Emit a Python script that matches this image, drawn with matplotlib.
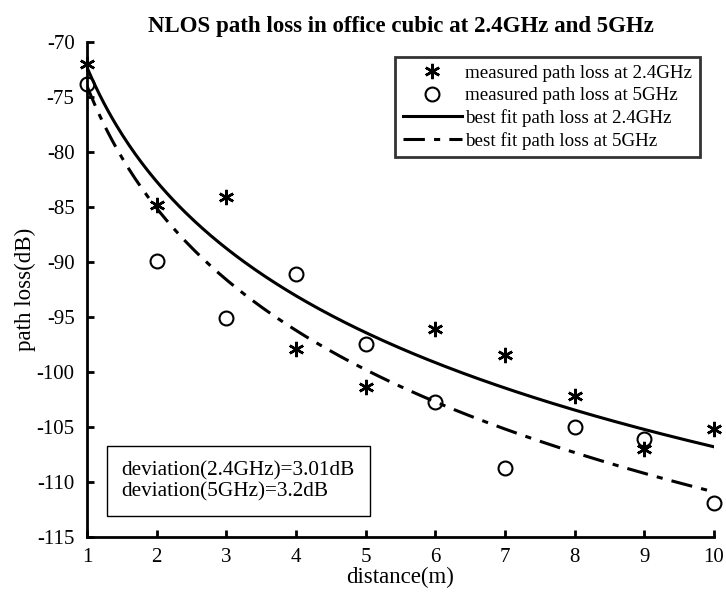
import numpy as np
import matplotlib
matplotlib.use("Agg")
import matplotlib.pyplot as plt

plt.rcParams['font.family'] = ['Liberation Serif', 'DejaVu Serif']
plt.rcParams['axes.unicode_minus'] = False

# Measured NLOS path loss (dB) versus distance (m)
distance = [1, 2, 3, 4, 5, 6, 7, 8, 9, 10]
loss_24 = [-72.0, -84.8, -84.1, -97.9, -101.4, -96.1, -98.5, -102.2, -107.0, -105.2]
loss_5 = [-73.8, -89.9, -95.1, -91.1, -97.5, -102.7, -108.7, -105.0, -106.1, -111.9]

# Log-distance fit: PL(d) = PL0 - slope * log10(d)
fit_24_pl0, fit_24_slope = -72.3, 34.5
fit_5_pl0, fit_5_slope = -74.0, 36.9

x_ticks = [1, 2, 3, 4, 5, 6, 7, 8, 9, 10]
y_ticks = [-115, -110, -105, -100, -95, -90, -85, -80, -75, -70]

fig = plt.figure(figsize=(7.26, 5.97), dpi=100)
ax = fig.add_axes([87 / 726, 1 - 537 / 597, (714 - 87) / 726, (537 - 42) / 597])

d = np.linspace(1, 10, 300)
asterisk = (6, 2, 0)

ax.plot(distance, loss_24, linestyle='none', marker=asterisk, markersize=11,
        markeredgewidth=1.8, color='black', label='measured path loss at 2.4GHz', clip_on=False)
ax.plot(distance, loss_5, linestyle='none', marker='o', markersize=10,
        markerfacecolor='none', markeredgewidth=1.5, color='black',
        label='measured path loss at 5GHz', clip_on=False)
ax.plot(d, fit_24_pl0 - fit_24_slope * np.log10(d), '-', color='black', lw=2.2,
        label='best fit path loss at 2.4GHz')
ax.plot(d, fit_5_pl0 - fit_5_slope * np.log10(d), color='black', lw=2.2,
        dashes=(7, 3, 2, 3), label='best fit path loss at 5GHz')

ax.set_xlim(1, 10)
ax.set_ylim(-115, -70)
ax.set_xticks(x_ticks)
ax.set_yticks(y_ticks)
ax.tick_params(direction='in', length=5, width=2, labelsize=15)
ax.tick_params(axis='x', pad=8)
ax.tick_params(axis='y', pad=9)
for s in ['top', 'right']:
    ax.spines[s].set_visible(False)
for s in ['left', 'bottom']:
    ax.spines[s].set_linewidth(2)

ax.set_xlabel('distance(m)', fontsize=16.5, labelpad=0)
ax.set_ylabel('path loss(dB)', fontsize=16.5, labelpad=0)
ax.set_title('NLOS path loss in office cubic at 2.4GHz and 5GHz',
             fontsize=16.5, fontweight='bold', pad=7)

leg = ax.legend(loc='upper right', bbox_to_anchor=(1.0 - 14 / 627, 1.0 - 15 / 495),
                fontsize=13.7, frameon=True, fancybox=False, edgecolor='black',
                handlelength=3.1, handletextpad=0.2, borderpad=0.4, labelspacing=0.26,
                borderaxespad=0)
leg.get_frame().set_linewidth(2)

ax.text(0.055, 0.113, 'deviation(2.4GHz)=3.01dB\ndeviation(5GHz)=3.2dB',
        transform=ax.transAxes, fontsize=15.3, va='center', ha='left', linespacing=1.1,
        bbox=dict(boxstyle='square,pad=0.7', facecolor='white', edgecolor='black', linewidth=1))

fig.savefig('out.png', dpi=100)
